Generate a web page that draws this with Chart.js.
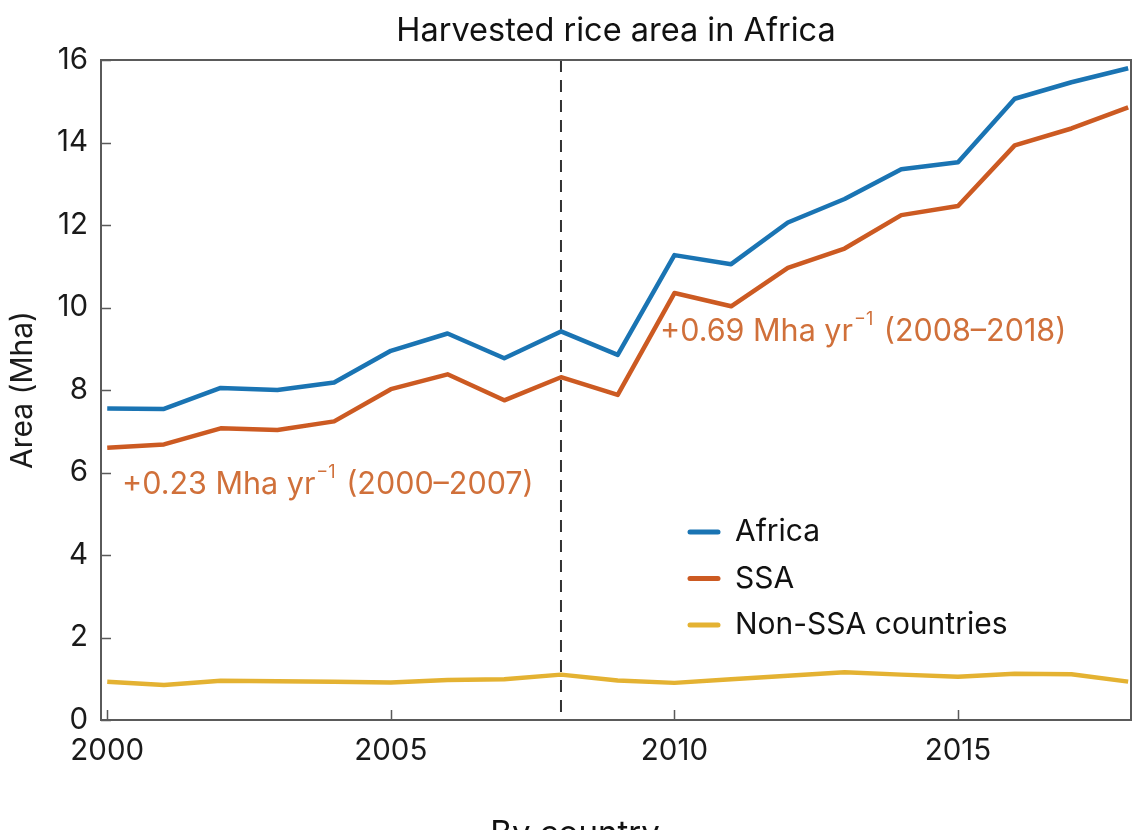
<!DOCTYPE html>
<html>
<head>
<meta charset="utf-8">
<title>Harvested rice area in Africa</title>
<script src="https://cdn.jsdelivr.net/npm/chart.js@4"></script>
<style>
    body { margin: 0; background: #fff; }
    #wrap { width: 1132px; height: 830px; }
</style>
</head>
<body>
<div id="wrap"><canvas id="riceChart" width="1132" height="830"></canvas></div>
<script>
    // values (Mha)
    const years = [2000, 2001, 2002, 2003, 2004, 2005, 2006, 2007, 2008, 2009,
        2010, 2011, 2012, 2013, 2014, 2015, 2016, 2017, 2018];
    const africa = [7.55, 7.54, 8.05, 8.0, 8.18, 8.95, 9.37, 8.77, 9.42, 8.85,
        11.27, 11.05, 12.06, 12.63, 13.35, 13.52, 15.06, 15.46, 15.8];
    const ssa = [6.6, 6.68, 7.07, 7.03, 7.24, 8.02, 8.38, 7.75, 8.31, 7.88,
        10.35, 10.03, 10.96, 11.43, 12.24, 12.46, 13.93, 14.34, 14.85];
    const nonSsa = [0.93, 0.85, 0.95, 0.94, 0.93, 0.91, 0.97, 0.99, 1.1, 0.96,
        0.9, 0.99, 1.07, 1.16, 1.1, 1.05, 1.12, 1.11, 0.93];
    const xTicks = [2000, 2005, 2010, 2015];
    const yTicks = [0, 2, 4, 6, 8, 10, 12, 14, 16];
    const splitYear = 2008;

    const blue = '#1a74b3';
    const orange = '#cc5a22';
    const yellow = '#e4b232';
    const noteColor = '#d0703a';
    const axisColor = '#5a5a5a';
    const fontName = 'Inter, "Noto Sans", sans-serif';

    const pts = arr => years.map((y, i) => ({ x: y, y: arr[i] }));

    const extras = {
        id: 'extras',
        beforeDatasetsDraw(chart) {
            const c = chart.ctx;
            const a = chart.chartArea;
            const xs = chart.scales.x;
            // dashed divider at 2008
            const px = xs.getPixelForValue(splitYear);
            c.save();
            c.strokeStyle = '#333';
            c.lineWidth = 2;
            c.setLineDash([12, 8]);
            c.beginPath();
            c.moveTo(px, a.top);
            c.lineTo(px, a.bottom);
            c.stroke();
            c.restore();
        },
        afterDraw(chart) {
            const c = chart.ctx;
            const a = chart.chartArea;
            const xs = chart.scales.x;
            const ys = chart.scales.y;
            c.save();

            // frame top + right
            c.strokeStyle = axisColor;
            c.lineWidth = 2;
            c.beginPath();
            c.moveTo(a.left, a.top);
            c.lineTo(a.right, a.top);
            c.lineTo(a.right, a.bottom);
            c.stroke();

            // inward tick marks
            c.lineWidth = 1.5;
            c.beginPath();
            xTicks.forEach(v => {
                const p = Math.round(xs.getPixelForValue(v)) + 0.5;
                c.moveTo(p, a.bottom);
                c.lineTo(p, a.bottom - 10);
            });
            yTicks.forEach(v => {
                const p = Math.round(ys.getPixelForValue(v)) + 0.5;
                c.moveTo(a.left, p);
                c.lineTo(a.left + 10, p);
            });
            c.stroke();

            // title
            c.fillStyle = '#111';
            c.font = '32.5px ' + fontName;
            c.textAlign = 'center';
            c.textBaseline = 'alphabetic';
            c.fillText('Harvested rice area in Africa', (a.left + a.right) / 2, 41);

            // trend notes
            function note(x, y, pre, sup, post) {
                c.fillStyle = noteColor;
                c.textAlign = 'left';
                c.textBaseline = 'middle';
                c.font = '30.5px ' + fontName;
                c.fillText(pre, x, y);
                let w = c.measureText(pre).width;
                c.font = '18px ' + fontName;
                c.fillText(sup, x + w + 1, y - 12);
                w += c.measureText(sup).width + 3;
                c.font = '30.5px ' + fontName;
                c.fillText(post, x + w, y);
            }
            note(122, 485, '+0.23 Mha yr', '\u22121', ' (2000\u20132007)');
            note(660, 332, '+0.69 Mha yr', '\u22121', ' (2008\u20132018)');

            // legend
            const items = [['Africa', blue], ['SSA', orange], ['Non-SSA countries', yellow]];
            items.forEach((it, i) => {
                const ly = 532 + i * 46.5;
                c.strokeStyle = it[1];
                c.lineWidth = 5;
                c.lineCap = 'round';
                c.beginPath();
                c.moveTo(690, ly);
                c.lineTo(718, ly);
                c.stroke();
                c.fillStyle = '#111';
                c.font = '30px ' + fontName;
                c.textAlign = 'left';
                c.textBaseline = 'middle';
                c.fillText(it[0], 735, ly);
            });

            // next panel heading, cut off at the bottom
            c.fillStyle = '#111';
            c.font = '33px ' + fontName;
            c.textAlign = 'center';
            c.textBaseline = 'alphabetic';
            c.fillText('By country', 575, 844);

            c.restore();
        }
    };

    const ctx = document.getElementById('riceChart');
    const chart = new Chart(ctx, {
        type: 'line',
        data: {
            datasets: [
                { label: 'Africa', data: pts(africa), borderColor: blue },
                { label: 'SSA', data: pts(ssa), borderColor: orange },
                { label: 'Non-SSA countries', data: pts(nonSsa), borderColor: yellow }
            ]
        },
        options: {
            responsive: false,
            animation: false,
            devicePixelRatio: 1,
            layout: { padding: { top: 60, right: 1, left: 0, bottom: 0 } },
            elements: {
                line: { borderWidth: 4.5, tension: 0, borderJoinStyle: 'round' },
                point: { radius: 0 }
            },
            plugins: {
                legend: { display: false },
                title: { display: false },
                tooltip: { enabled: false }
            },
            scales: {
                x: {
                    type: 'linear',
                    min: 1999.89,
                    max: 2018.05,
                    afterBuildTicks: s => { s.ticks = xTicks.map(v => ({ value: v })); },
                    afterFit: s => { s.height = 110; },
                    grid: { drawOnChartArea: false, drawTicks: false },
                    border: { display: true, color: axisColor, width: 2 },
                    ticks: {
                        padding: 13,
                        color: '#1a1a1a',
                        font: { family: fontName, size: 29.5 },
                        maxRotation: 0,
                        callback: v => String(v)
                    }
                },
                y: {
                    min: 0,
                    max: 16,
                    afterBuildTicks: s => { s.ticks = yTicks.map(v => ({ value: v })); },
                    afterFit: s => { s.width = 101; },
                    grid: { drawOnChartArea: false, drawTicks: false },
                    border: { display: true, color: axisColor, width: 2 },
                    title: {
                        display: true,
                        text: 'Area (Mha)',
                        color: '#1a1a1a',
                        font: { family: fontName, size: 30 },
                        padding: { top: 5, bottom: 0 }
                    },
                    ticks: {
                        padding: 13,
                        color: '#1a1a1a',
                        font: { family: fontName, size: 29.5 }
                    }
                }
            }
        },
        plugins: [extras]
    });
</script>
</body>
</html>
